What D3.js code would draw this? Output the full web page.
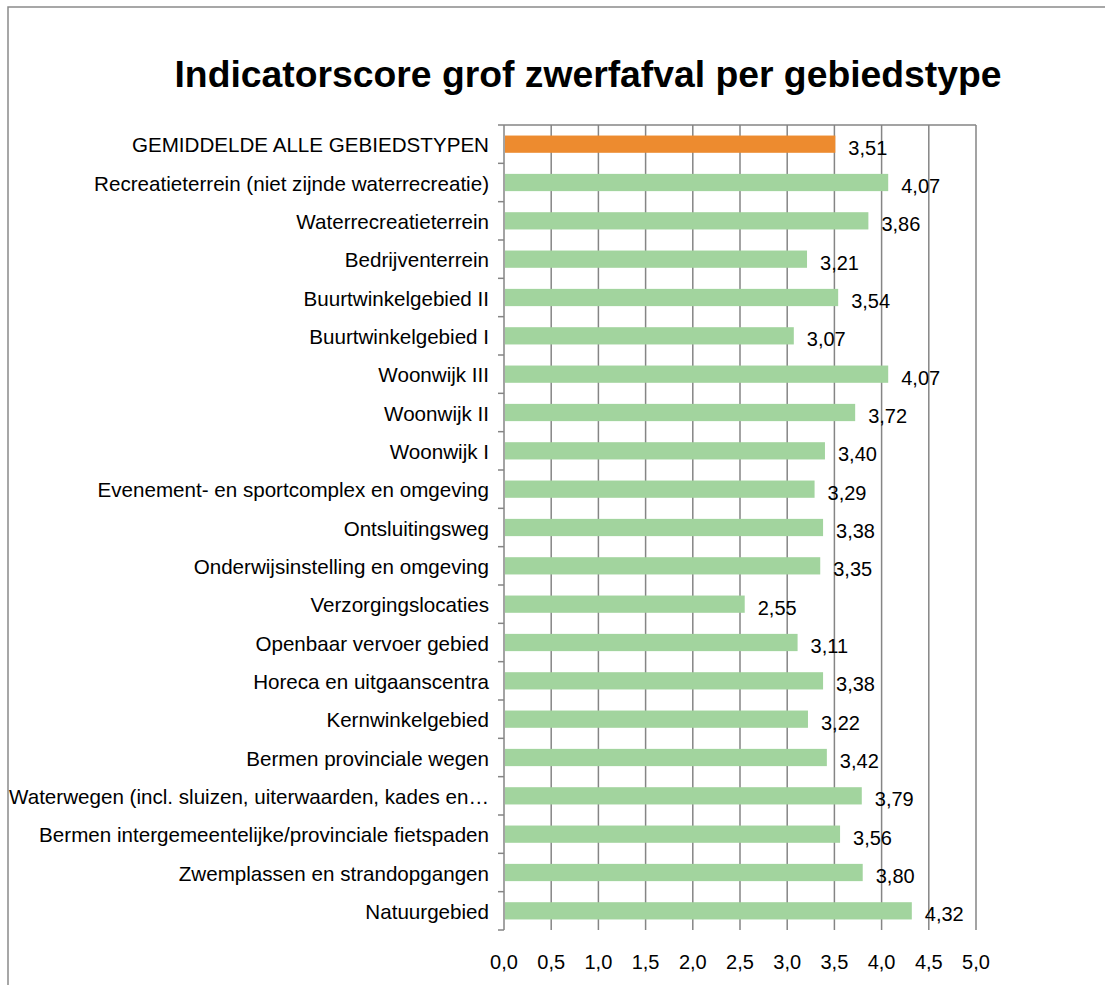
<!DOCTYPE html>
<html>
<head>
<meta charset="utf-8">
<script src="https://cdn.jsdelivr.net/npm/d3@7"></script>
<style>
  body { margin: 0; background: #fff; }
  svg { display: block; font-family: "Liberation Sans", Arial, sans-serif; }
</style>
</head>
<body>
<svg id="chart" width="1105" height="985"></svg>
<script>
// Data
const categories = [
  "GEMIDDELDE ALLE GEBIEDSTYPEN",
  "Recreatieterrein (niet zijnde waterrecreatie)",
  "Waterrecreatieterrein",
  "Bedrijventerrein",
  "Buurtwinkelgebied II",
  "Buurtwinkelgebied I",
  "Woonwijk III",
  "Woonwijk II",
  "Woonwijk I",
  "Evenement- en sportcomplex en omgeving",
  "Ontsluitingsweg",
  "Onderwijsinstelling en omgeving",
  "Verzorgingslocaties",
  "Openbaar vervoer gebied",
  "Horeca en uitgaanscentra",
  "Kernwinkelgebied",
  "Bermen provinciale wegen",
  "Waterwegen (incl. sluizen, uiterwaarden, kades en…",
  "Bermen intergemeentelijke/provinciale fietspaden",
  "Zwemplassen en strandopgangen",
  "Natuurgebied"
];
const scores = [3.51, 4.07, 3.86, 3.21, 3.54, 3.07, 4.07, 3.72, 3.40, 3.29, 3.38,
                3.35, 2.55, 3.11, 3.38, 3.22, 3.42, 3.79, 3.56, 3.80, 4.32];
const xTicks = [0, 0.5, 1, 1.5, 2, 2.5, 3, 3.5, 4, 4.5, 5];
const title = "Indicatorscore grof zwerfafval per gebiedstype";

const rows = categories.map((c, i) => ({ name: c, value: scores[i], avg: i === 0 }));

const svg = d3.select("#chart");
const fmt = v => d3.format(".1f")(v).replace(".", ",");
const fmt2 = v => d3.format(".2f")(v).replace(".", ",");

// outer chart border (runs off the right and bottom edge)
svg.append("rect")
  .attr("x", 8).attr("y", 7)
  .attr("width", 1300).attr("height", 1300)
  .attr("fill", "none")
  .attr("stroke", "#8a8a8a")
  .attr("stroke-width", 1.5);

const x = d3.scaleLinear().domain([0, 5]).range([504, 976]);
const y = d3.scaleBand()
  .domain(categories)
  .range([125, 930])
  .paddingInner(0.55)
  .paddingOuter(0.275);

// title
svg.append("text")
  .attr("x", 588).attr("y", 87)
  .attr("text-anchor", "middle")
  .attr("font-size", 37.3)
  .attr("font-weight", "bold")
  .text(title);

// gridlines + top border
svg.append("g")
  .selectAll("line")
  .data(xTicks.slice(1))
  .enter().append("line")
  .attr("x1", d => x(d)).attr("x2", d => x(d))
  .attr("y1", 125).attr("y2", 930)
  .attr("stroke", "#858585")
  .attr("stroke-width", 1.5);

svg.append("line")
  .attr("x1", x(0)).attr("x2", x(5))
  .attr("y1", 125).attr("y2", 125)
  .attr("stroke", "#858585")
  .attr("stroke-width", 1.5);

// bars
svg.append("g")
  .selectAll("rect")
  .data(rows)
  .enter().append("rect")
  .attr("x", x(0) + 1)
  .attr("y", d => y(d.name))
  .attr("width", d => x(d.value) - x(0) - 1)
  .attr("height", y.bandwidth())
  .attr("fill", d => d.avg ? "#ed8b2f" : "#a2d49e");

// left axis line with ticks between the categories
const step = y.step();
const yAxis = svg.append("g").attr("stroke", "#858585").attr("stroke-width", 1.5);
yAxis.append("line")
  .attr("x1", x(0)).attr("x2", x(0))
  .attr("y1", 125).attr("y2", 930);
yAxis.selectAll("line.tick")
  .data(d3.range(categories.length + 1))
  .enter().append("line")
  .attr("class", "tick")
  .attr("x1", x(0) - 6).attr("x2", x(0))
  .attr("y1", i => 125 + i * step).attr("y2", i => 125 + i * step);

// category labels
svg.append("g")
  .selectAll("text")
  .data(rows)
  .enter().append("text")
  .attr("x", 489)
  .attr("y", d => y(d.name) + y.bandwidth() / 2 + 8)
  .attr("text-anchor", "end")
  .attr("font-size", 20.6)
  .text(d => d.name);

// value labels
svg.append("g")
  .selectAll("text")
  .data(rows)
  .enter().append("text")
  .attr("x", d => x(d.value) + 13)
  .attr("y", d => y(d.name) + y.bandwidth() / 2 + 10.5)
  .attr("font-size", 20)
  .text(d => fmt2(d.value));

// x tick labels
svg.append("g")
  .selectAll("text")
  .data(xTicks)
  .enter().append("text")
  .attr("x", d => x(d))
  .attr("y", 969)
  .attr("text-anchor", "middle")
  .attr("font-size", 20)
  .text(d => fmt(d));
</script>
</body>
</html>
